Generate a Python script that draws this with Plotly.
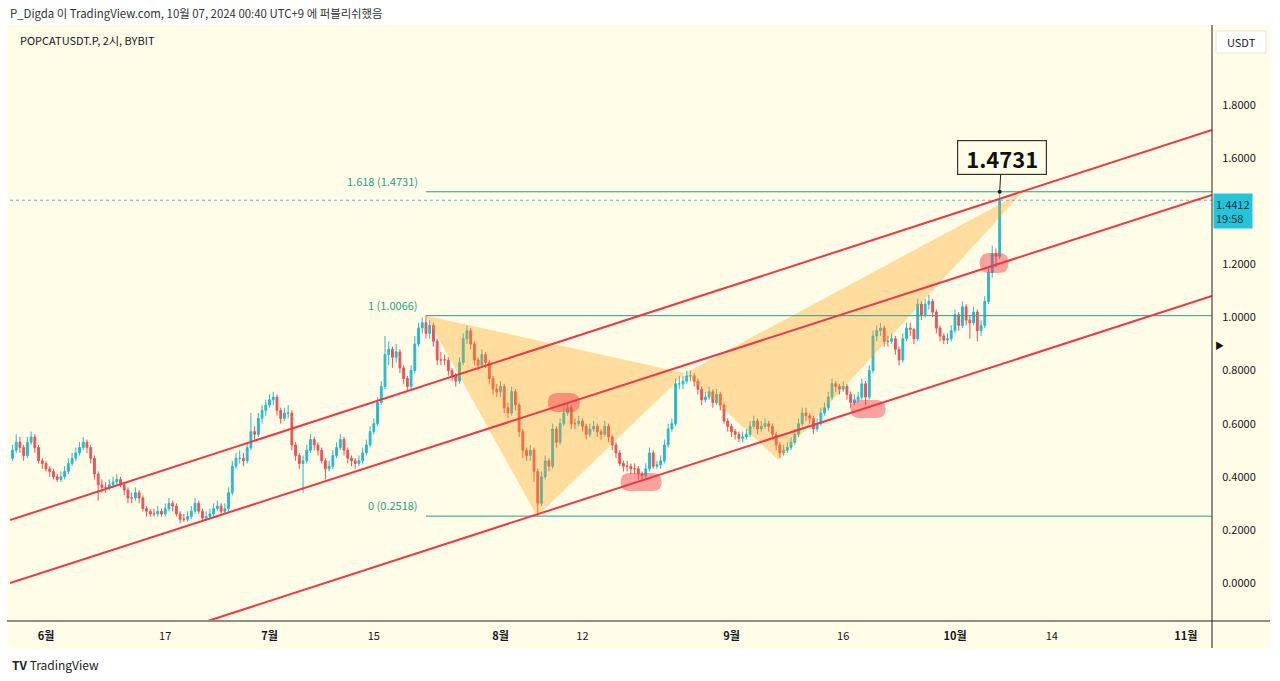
import plotly.graph_objects as go
import pandas as pd

# ---------------- data ----------------
first_open = 0.46
close = [
    0.47,0.50,0.53,0.51,0.48,0.53,0.55,0.51,0.46,0.45,
    0.43,0.42,0.40,0.39,0.40,0.42,0.45,0.47,0.49,0.51,
    0.53,0.51,0.47,0.41,0.37,0.36,0.36,0.37,0.38,0.39,
    0.37,0.35,0.32,0.32,0.34,0.32,0.28,0.27,0.26,0.26,
    0.27,0.26,0.28,0.30,0.29,0.26,0.24,0.24,0.25,0.27,
    0.30,0.27,0.245,0.25,0.26,0.28,0.29,0.27,0.28,0.34,
    0.44,0.47,0.47,0.46,0.51,0.57,0.56,0.62,0.65,0.67,
    0.69,0.70,0.65,0.62,0.64,0.64,0.52,0.48,0.45,0.46,
    0.50,0.54,0.52,0.50,0.46,0.43,0.44,0.48,0.51,0.54,
    0.50,0.47,0.46,0.45,0.46,0.49,0.52,0.57,0.60,0.68,
    0.74,0.86,0.88,0.85,0.87,0.81,0.77,0.74,0.80,0.90,
    0.96,0.98,0.94,0.97,0.91,0.84,0.84,0.84,0.80,0.78,
    0.76,0.83,0.92,0.95,0.90,0.84,0.82,0.86,0.83,0.77,
    0.73,0.72,0.74,0.66,0.64,0.72,0.67,0.57,0.50,0.48,
    0.50,0.42,0.30,0.40,0.46,0.44,0.58,0.53,0.60,0.64,
    0.66,0.60,0.60,0.61,0.59,0.56,0.58,0.59,0.57,0.56,
    0.59,0.55,0.52,0.49,0.45,0.44,0.44,0.43,0.43,0.41,
    0.405,0.43,0.49,0.44,0.445,0.46,0.52,0.58,0.60,0.75,
    0.75,0.76,0.78,0.78,0.76,0.73,0.69,0.70,0.72,0.68,
    0.71,0.67,0.61,0.59,0.57,0.56,0.545,0.55,0.56,0.59,
    0.61,0.58,0.59,0.60,0.59,0.56,0.52,0.49,0.50,0.51,
    0.53,0.56,0.60,0.64,0.63,0.62,0.58,0.60,0.64,0.66,
    0.70,0.75,0.74,0.73,0.74,0.71,0.68,0.69,0.70,0.75,
    0.70,0.80,0.93,0.95,0.96,0.91,0.91,0.92,0.88,0.84,
    0.92,0.96,0.955,0.92,1.05,1.01,1.05,1.06,1.02,0.96,
    0.93,0.915,0.92,0.95,1.01,0.97,1.04,0.99,0.98,1.02,
    0.95,0.97,1.06,1.17,1.24,1.23,1.4412,
]
high = [
    0.49,0.52,0.56,0.55,0.52,0.55,0.57,0.56,0.52,0.47,
    0.46,0.44,0.43,0.41,0.42,0.44,0.47,0.49,0.51,0.53,
    0.55,0.54,0.52,0.48,0.42,0.39,0.38,0.39,0.40,0.41,
    0.40,0.38,0.36,0.34,0.36,0.35,0.33,0.29,0.28,0.28,
    0.29,0.28,0.30,0.32,0.31,0.30,0.27,0.26,0.27,0.29,
    0.32,0.31,0.28,0.27,0.28,0.30,0.31,0.30,0.30,0.36,
    0.46,0.49,0.50,0.49,0.53,0.64,0.59,0.64,0.67,0.69,
    0.71,0.72,0.71,0.66,0.66,0.67,0.65,0.53,0.49,0.48,
    0.52,0.56,0.55,0.53,0.51,0.47,0.46,0.50,0.53,0.56,
    0.55,0.51,0.48,0.47,0.48,0.51,0.54,0.59,0.62,0.70,
    0.76,0.93,0.91,0.89,0.90,0.88,0.82,0.78,0.82,0.93,
    0.98,1.00,1.0066,0.99,0.98,0.92,0.87,0.86,0.85,0.81,
    0.79,0.85,0.94,0.97,0.96,0.91,0.85,0.88,0.87,0.84,
    0.78,0.75,0.76,0.75,0.68,0.74,0.73,0.68,0.58,0.51,
    0.52,0.51,0.43,0.42,0.48,0.47,0.60,0.59,0.62,0.66,
    0.68,0.67,0.62,0.63,0.62,0.60,0.60,0.61,0.60,0.58,
    0.61,0.60,0.56,0.53,0.50,0.46,0.46,0.45,0.45,0.44,
    0.42,0.45,0.51,0.50,0.46,0.48,0.54,0.60,0.62,0.77,
    0.78,0.78,0.80,0.80,0.79,0.77,0.74,0.72,0.74,0.73,
    0.73,0.72,0.68,0.62,0.60,0.58,0.57,0.57,0.58,0.61,
    0.63,0.62,0.61,0.62,0.61,0.60,0.57,0.53,0.52,0.53,
    0.55,0.58,0.62,0.66,0.66,0.64,0.63,0.62,0.66,0.68,
    0.72,0.77,0.76,0.75,0.76,0.75,0.72,0.71,0.72,0.77,
    0.76,0.82,0.95,0.97,0.98,0.97,0.93,0.94,0.93,0.89,
    0.94,0.98,0.98,0.96,1.07,1.06,1.07,1.085,1.07,1.03,
    0.97,0.94,0.94,0.97,1.03,1.02,1.06,1.05,1.01,1.04,
    1.03,0.99,1.08,1.19,1.27,1.26,1.4731,
]
low = [
    0.44,0.46,0.49,0.49,0.46,0.47,0.52,0.49,0.45,0.43,
    0.42,0.40,0.39,0.38,0.38,0.39,0.41,0.44,0.46,0.48,
    0.50,0.49,0.45,0.39,0.31,0.34,0.34,0.35,0.36,0.37,
    0.36,0.33,0.30,0.30,0.31,0.30,0.27,0.25,0.25,0.25,
    0.25,0.25,0.25,0.27,0.27,0.25,0.225,0.23,0.23,0.24,
    0.26,0.26,0.23,0.235,0.24,0.25,0.27,0.26,0.26,0.27,
    0.33,0.43,0.45,0.44,0.45,0.50,0.54,0.55,0.60,0.63,
    0.66,0.67,0.63,0.60,0.61,0.62,0.50,0.46,0.43,0.34,
    0.45,0.49,0.50,0.48,0.45,0.39,0.42,0.43,0.47,0.50,
    0.48,0.45,0.44,0.43,0.44,0.45,0.48,0.51,0.56,0.59,
    0.67,0.73,0.82,0.81,0.83,0.79,0.75,0.72,0.73,0.79,
    0.89,0.94,0.92,0.92,0.89,0.82,0.82,0.82,0.78,0.76,
    0.74,0.75,0.82,0.90,0.88,0.82,0.80,0.81,0.81,0.75,
    0.71,0.70,0.70,0.64,0.62,0.63,0.65,0.55,0.47,0.46,
    0.46,0.38,0.2518,0.29,0.39,0.42,0.43,0.51,0.52,0.59,
    0.63,0.58,0.58,0.59,0.57,0.54,0.55,0.57,0.55,0.54,
    0.55,0.53,0.50,0.47,0.44,0.42,0.42,0.41,0.41,0.39,
    0.39,0.395,0.42,0.43,0.43,0.43,0.45,0.51,0.57,0.59,
    0.73,0.73,0.75,0.76,0.74,0.71,0.67,0.68,0.69,0.66,
    0.67,0.65,0.60,0.57,0.55,0.54,0.53,0.53,0.54,0.55,
    0.58,0.56,0.57,0.58,0.57,0.54,0.50,0.47,0.48,0.49,
    0.50,0.52,0.55,0.59,0.61,0.60,0.56,0.57,0.59,0.63,
    0.65,0.69,0.72,0.71,0.72,0.69,0.66,0.67,0.68,0.69,
    0.67,0.69,0.79,0.91,0.93,0.89,0.89,0.90,0.86,0.82,
    0.83,0.91,0.93,0.90,0.91,0.99,1.00,1.03,1.00,0.94,
    0.91,0.90,0.90,0.91,0.94,0.95,0.96,0.97,0.92,0.97,
    0.91,0.93,0.96,1.05,1.15,1.19,1.22,
]
candle_start = "2024-05-27 00:00"
candle_step = "12h"

# parallel channel (two anchor points each)
channel_x = ["2024-05-27 04:00", "2024-11-04 12:00"]
channel_upper = [0.237, 1.706]
channel_middle = [0.0, 1.461]
channel_lower = [-0.384, 1.081]

# XABCD pattern points
pattern_x = ["2024-07-22 00:00", "2024-08-05 22:00", "2024-08-25 19:00",
             "2024-09-07 06:00", "2024-10-10 03:00"]
pattern_y = [1.0066, 0.2518, 0.79, 0.465, 1.4731]

# Fibonacci levels
fib_start = "2024-07-22 00:00"
fib_end = "2024-11-04 12:00"
fib_levels = [1.4731, 1.0066, 0.2518]
fib_labels = ["1.618 (1.4731)", "1 (1.0066)", "0 (0.2518)"]

last_price = 1.4412
countdown = "19:58"
target_label = "1.4731"
target_time = "2024-10-07 00:00"

# highlight blobs: (time, price, width px, height px)
blobs = [
    ("2024-08-09 12:00", 0.680, 32, 19),
    ("2024-08-19 21:00", 0.380, 41, 18),
    ("2024-09-19 08:00", 0.655, 35, 18),
    ("2024-10-06 06:00", 1.205, 29, 20),
]

x_range = ["2024-05-27 04:00", "2024-11-04 12:00"]
y_range = [-0.143, 2.101]
x_tickvals = ["2024-06-01", "2024-06-17", "2024-07-01", "2024-07-15", "2024-08-01",
              "2024-08-12", "2024-09-01", "2024-09-16", "2024-10-01", "2024-10-14",
              "2024-11-01"]
x_ticktext = ["6월", "17", "7월", "15", "8월", "12", "9월", "16", "10월", "14", "11월"]
y_tickvals = [0.0, 0.2, 0.4, 0.6, 0.8, 1.0, 1.2, 1.6, 1.8]

# ---------------- styles ----------------
FONT = "Noto Sans CJK KR"
CREAM = "#fffce7"
UP = "#2ab9cc"
DOWN = "#e9545c"
RED = "#f23645"
FIB = "#26a08c"
TXT = "#131722"

W, H = 1280, 681
ML, MR, MT, MB = 10, 68, 25, 60
PW, PH = W - ML - MR, H - MT - MB


def px(xp):
    return (xp - ML) / PW


def py(yp):
    return (H - MB - yp) / PH


t = pd.date_range(candle_start, periods=len(close), freq=candle_step)
opens = [first_open] + close[:-1]
hi = [max(h, o, c) for h, o, c in zip(high, opens, close)]
lo = [min(l, o, c) for l, o, c in zip(low, opens, close)]

fig = go.Figure()

# pattern triangles
for idx in ([0, 1, 2], [2, 3, 4]):
    fig.add_trace(go.Scatter(
        x=[pattern_x[i] for i in idx] + [pattern_x[idx[0]]],
        y=[pattern_y[i] for i in idx] + [pattern_y[idx[0]]],
        mode="lines", fill="toself", fillcolor="rgba(255,160,20,0.34)",
        line=dict(width=0), hoverinfo="skip", showlegend=False))

# fib lines
for lv in fib_levels:
    fig.add_trace(go.Scatter(x=[fib_start, fib_end], y=[lv, lv], mode="lines",
                             line=dict(color=FIB, width=1), hoverinfo="skip",
                             showlegend=False))

# last price dotted line
fig.add_trace(go.Scatter(x=x_range, y=[last_price, last_price], mode="lines",
                         line=dict(color="#46c3d3", width=1, dash="dot"),
                         hoverinfo="skip", showlegend=False))

# candles
fig.add_trace(go.Candlestick(
    x=t, open=opens, high=hi, low=lo, close=close,
    increasing=dict(line=dict(color=UP, width=1), fillcolor=UP),
    decreasing=dict(line=dict(color=DOWN, width=1), fillcolor=DOWN),
    whiskerwidth=0, showlegend=False))

# channel lines
for ys in (channel_upper, channel_middle, channel_lower):
    fig.add_trace(go.Scatter(x=channel_x, y=ys, mode="lines",
                             line=dict(color=RED, width=2), hoverinfo="skip",
                             showlegend=False))

# target dot
fig.add_trace(go.Scatter(x=[target_time], y=[fib_levels[0]], mode="markers",
                         marker=dict(color="#222", size=4), hoverinfo="skip",
                         showlegend=False))

shapes = []
# cream panel
shapes.append(dict(type="rect", xref="paper", yref="paper", x0=px(7), x1=px(1270),
                   y0=py(648), y1=py(25), fillcolor=CREAM, line=dict(width=0),
                   layer="below"))
# bottom axis line
shapes.append(dict(type="line", xref="paper", yref="paper", x0=px(7), x1=px(1270),
                   y0=py(621), y1=py(621), line=dict(color="#8f8f86", width=2)))
# right vertical line
shapes.append(dict(type="line", xref="paper", yref="paper", x0=px(1212), x1=px(1212),
                   y0=py(648), y1=py(25), line=dict(color="#222", width=1)))
# blobs (rounded rectangles)
for bx, by, bw, bh in blobs:
    r = bh / 2
    a, b = bw / 2, bh / 2
    path = (f"M {-a + r},{-b} L {a - r},{-b} Q {a},{-b} {a},0 Q {a},{b} {a - r},{b} "
            f"L {-a + r},{b} Q {-a},{b} {-a},0 Q {-a},{-b} {-a + r},{-b} Z")
    shapes.append(dict(type="path", xref="x", yref="y", xsizemode="pixel",
                       ysizemode="pixel", xanchor=bx, yanchor=by, path=path,
                       fillcolor="rgba(242,54,69,0.45)", line=dict(width=0)))
# USDT box
shapes.append(dict(type="rect", xref="paper", yref="paper", x0=px(1216), x1=px(1266),
                   y0=py(53), y1=py(31), fillcolor="white",
                   line=dict(color="#e6e6e0", width=1)))

ann = []
ann.append(dict(xref="paper", yref="paper", x=px(8), y=py(13), xanchor="left",
                yanchor="middle", showarrow=False,
                text="P_Digda 이 TradingView.com, 10월 07, 2024 00:40 UTC+9 에 퍼블리쉬했음",
                font=dict(size=11.4, color="#333", family=FONT)))
ann.append(dict(xref="paper", yref="paper", x=px(18), y=py(40), xanchor="left",
                yanchor="middle", showarrow=False, text="POPCATUSDT.P, 2시, BYBIT",
                font=dict(size=11, color=TXT, family=FONT)))
ann.append(dict(xref="paper", yref="paper", x=px(1241), y=py(42), xanchor="center",
                yanchor="middle", showarrow=False, text="USDT",
                font=dict(size=11, color=TXT, family=FONT)))
ann.append(dict(xref="paper", yref="paper", x=px(10), y=py(664), xanchor="left",
                yanchor="middle", showarrow=False,
                text="<b>TV</b> TradingView",
                font=dict(size=12, color="#222", family=FONT)))
ann.append(dict(xref="paper", yref="paper", x=px(1213), y=py(345), xanchor="left",
                yanchor="middle", showarrow=False, text="▶",
                font=dict(size=9, color="#111", family=FONT)))
for lv, lab in zip(fib_levels, fib_labels):
    ann.append(dict(x=fib_start, y=lv, xref="x", yref="y", xanchor="right",
                    yanchor="middle", xshift=-6, yshift=11, showarrow=False, text=lab,
                    font=dict(size=11, color=FIB, family=FONT)))
# last price label
ann.append(dict(xref="paper", yref="y", x=px(1213), y=last_price, xanchor="left",
                yanchor="top", yshift=7, showarrow=False,
                text=f"{last_price:.4f}<br>{countdown}", align="left",
                bgcolor="#26c4d9", borderpad=2,
                font=dict(size=11, color="#10303f", family=FONT)))
# target callout
ann.append(dict(x=target_time, y=fib_levels[0], xref="x", yref="y",
                text=f"<b>{target_label}</b>", showarrow=True, arrowhead=0,
                arrowwidth=1, arrowcolor="#222", ax=2, ay=-34,
                width=82, height=27,
                bgcolor=CREAM, bordercolor="#333", borderwidth=1.2, borderpad=3,
                font=dict(size=22, color="#111", family=FONT)))

x_text = [f"<b>{s}</b>" if "월" in s else s for s in x_ticktext]

fig.update_layout(
    width=W, height=H, margin=dict(l=ML, r=MR, t=MT, b=MB),
    paper_bgcolor="white", plot_bgcolor=CREAM,
    shapes=shapes, annotations=ann, showlegend=False,
    font=dict(family=FONT, color=TXT, size=11),
    xaxis=dict(range=x_range, type="date", rangeslider=dict(visible=False),
               showgrid=False, zeroline=False, tickvals=x_tickvals, ticktext=x_text,
               ticks="outside", ticklen=5, tickcolor="rgba(0,0,0,0)",
               tickfont=dict(size=11, color=TXT, family=FONT)),
    yaxis=dict(range=y_range, side="right", showgrid=False, zeroline=False,
               tickvals=y_tickvals, ticktext=[f"{v:.4f}" for v in y_tickvals],
               ticks="outside", ticklen=7, tickcolor="rgba(0,0,0,0)",
               tickfont=dict(size=11, color=TXT, family=FONT)),
)

fig.write_html("out.html", config={"displayModeBar": False},
               post_script="document.body.style.margin='0';")
